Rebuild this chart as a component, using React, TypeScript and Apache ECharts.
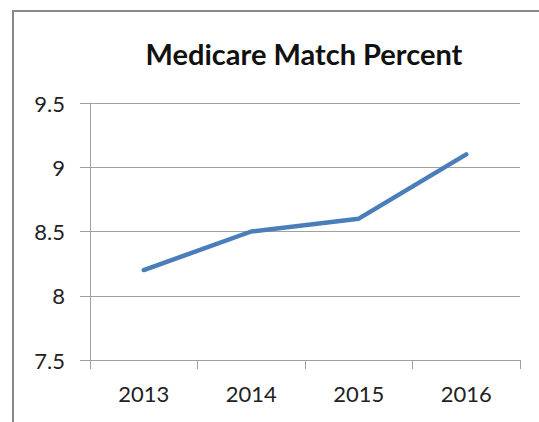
import React, { useEffect, useRef } from "react";
import * as echarts from "echarts";

const chartTitle = "Medicare Match Percent";
const years = ["2013", "2014", "2015", "2016"];
const matchPercent = [8.2, 8.5, 8.6, 9.1];
const yMin = 7.5;
const yMax = 9.5;
const yStep = 0.5;

export default function App() {
  const ref = useRef<HTMLDivElement>(null);
  useEffect(() => {
    if (!ref.current) return;
    const chart = echarts.init(ref.current, null, { renderer: "svg" });
    const grey = "#a0a0a0";
    const textColor = "#222";
    chart.setOption({
      animation: false,
      backgroundColor: "#fff",
      grid: { left: 90, top: 103, right: 19, bottom: 62 },
      graphic: [
        {
          type: "polyline",
          shape: { points: [[13, 430], [13, 11], [545, 11]] },
          style: { stroke: "#888", lineWidth: 2, fill: "none" },
          z: 10,
        },
        {
          type: "text",
          x: 304,
          y: 53,
          style: {
            text: chartTitle,
            font: "bold 29px Lato",
            fill: "#111",
            textAlign: "center",
            textVerticalAlign: "middle",
          },
        },
      ],
      xAxis: {
        type: "category",
        data: years,
        boundaryGap: true,
        axisLine: { show: true, lineStyle: { color: grey, width: 1 } },
        axisTick: { show: true, length: 9, lineStyle: { color: grey } },
        axisLabel: { color: textColor, fontSize: 22, fontFamily: "Lato", margin: 22 },
        splitLine: { show: false },
      },
      yAxis: {
        type: "value",
        min: yMin,
        max: yMax,
        interval: yStep,
        axisLine: { show: true, lineStyle: { color: grey, width: 1 } },
        axisTick: { show: true, length: 10, lineStyle: { color: grey } },
        axisLabel: { color: textColor, fontSize: 22, fontFamily: "Lato", margin: 25 },
        splitLine: { show: true, lineStyle: { color: grey, width: 1 } },
      },
      series: [
        {
          type: "line",
          data: matchPercent,
          showSymbol: false,
          symbol: "none",
          lineStyle: { color: "#4a7ebb", width: 4.5, cap: "round", join: "round" },
          itemStyle: { color: "#4a7ebb" },
        },
      ],
    });
    return () => chart.dispose();
  }, []);
  return (
    <div
      ref={ref}
      style={{ position: "absolute", left: 0, top: 0, width: 539, height: 422 }}
    />
  );
}
